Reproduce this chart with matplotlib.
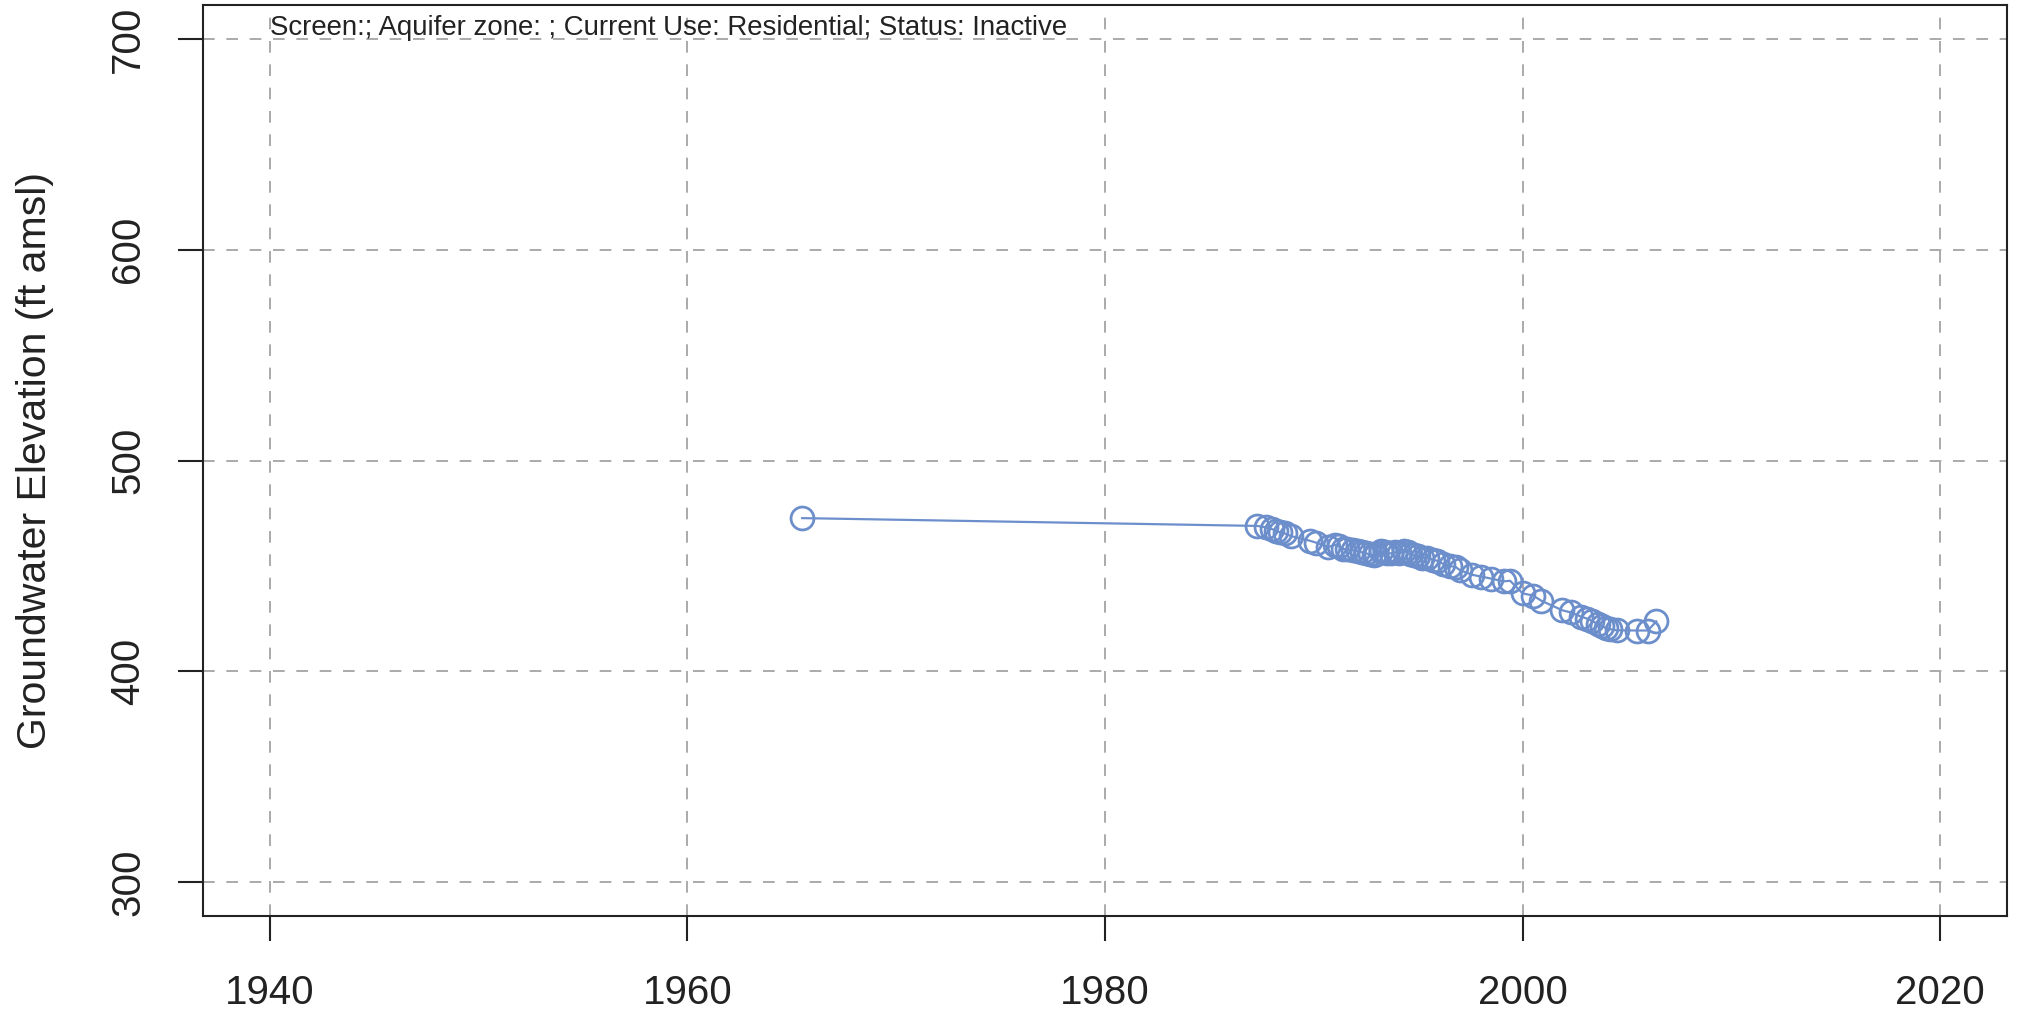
import matplotlib
matplotlib.use("Agg")
import matplotlib.pyplot as plt

plt.rcParams['font.family'] = ['Liberation Sans', 'DejaVu Sans']

# groundwater level record (decimal year, ft amsl)
years = [1965.5, 1987.3, 1987.7, 1988.0, 1988.2, 1988.4, 1988.6, 1988.9, 1989.8,
         1990.1, 1990.7, 1991.0, 1991.2, 1991.4, 1991.6, 1991.9, 1992.1, 1992.3,
         1992.5, 1992.7, 1992.9, 1993.0, 1993.2, 1993.4, 1993.5, 1993.7, 1993.9,
         1994.1, 1994.3, 1994.5, 1994.6, 1994.8, 1995.0, 1995.2, 1995.4, 1995.7,
         1995.9, 1996.2, 1996.5, 1996.8, 1997.0, 1997.6, 1998.0, 1998.5, 1999.1,
         1999.4, 2000.0, 2000.5, 2000.9, 2001.9, 2002.3, 2002.8, 2003.1, 2003.3,
         2003.6, 2003.8, 2004.0, 2004.2, 2004.5, 2005.5, 2006.0, 2006.4]
elev = [472.7, 469.0, 468.3, 467.5, 466.5, 466.0, 465.5, 464.2, 462.0,
        461.1, 459.0, 460.0, 459.5, 458.0, 458.0, 457.4, 457.0, 456.5,
        456.0, 455.5, 455.0, 455.5, 457.0, 456.5, 456.0, 456.0, 456.5,
        456.0, 457.0, 456.5, 455.5, 455.0, 454.5, 454.0, 454.0, 453.0,
        452.5, 451.0, 450.0, 449.5, 448.0, 445.8, 445.0, 444.0, 442.7,
        443.0, 437.0, 436.0, 433.5, 429.0, 428.0, 426.0, 425.0, 424.0,
        422.5, 421.5, 420.5, 420.0, 419.5, 419.4, 419.4, 423.7]

x_ticks = [1940, 1960, 1980, 2000, 2020]
y_ticks = [300, 400, 500, 600, 700]
label = "Screen:; Aquifer zone: ; Current Use: Residential; Status: Inactive"

col = '#6c8fcc'

fig = plt.figure(figsize=(20.21, 10.16), dpi=100)
ax = fig.add_axes([0.1004, 0.0984, 0.8927, 0.8966])

ax.plot(years, elev, color=col, lw=1.6, marker='o', ms=16.5,
        mfc='none', mec=col, mew=2.0)

ax.set_xlim(1936.8, 2023.2)
ax.set_ylim(284, 716)
ax.set_xticks(x_ticks)
ax.set_yticks(y_ticks)
ax.set_yticklabels([str(v) for v in y_ticks], rotation=90, va='center')

ax.grid(True, color='#aaaaaa', lw=1.4, linestyle=(0, (6, 6)))
ax.set_axisbelow(True)

for s in ax.spines.values():
    s.set_linewidth(1.5)
    s.set_color('#222222')
ax.tick_params(axis='both', length=18, width=1.5, color='#222222',
               labelsize=29, labelcolor='#222222', pad=24)
ax.tick_params(axis='y', pad=22)

ax.set_ylabel("Groundwater Elevation (ft amsl)", fontsize=29.5, color='#222222',
              labelpad=40)

ax.text(1940, 0.975, label, transform=ax.get_xaxis_transform(), fontsize=19.9,
        color='#222222', va='center', ha='left')

fig.savefig("out.png", dpi=100)
